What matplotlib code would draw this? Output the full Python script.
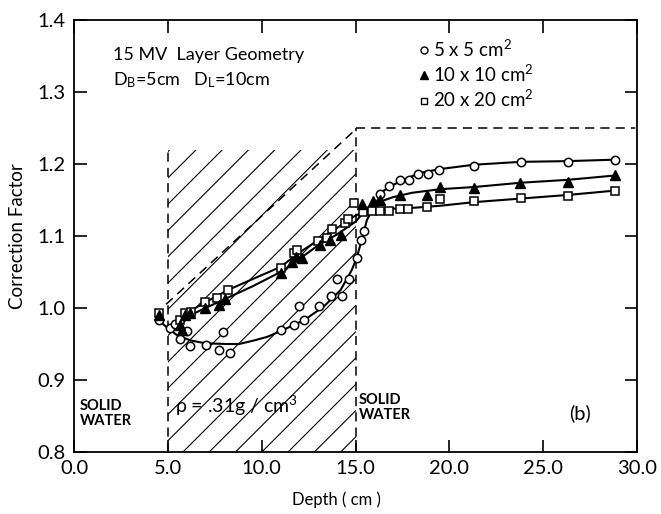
import matplotlib
matplotlib.use("Agg")
import matplotlib.pyplot as plt
import numpy as np
from matplotlib.lines import Line2D
from matplotlib.patches import Rectangle

plt.rcParams['font.family'] = ['Lato', 'DejaVu Sans']
plt.rcParams['mathtext.fontset'] = 'custom'
plt.rcParams['mathtext.rm'] = 'Lato'
plt.rcParams['mathtext.it'] = 'Lato:italic'
plt.rcParams['mathtext.bf'] = 'Lato:bold'

# ---- data ----
c5_x = [4.5, 5.1, 5.4, 5.65, 6.0, 6.2, 7.05, 7.7, 7.95, 8.3, 11.05, 11.7, 12.0, 12.25,
        13.05, 13.7, 14.0, 14.25, 14.65, 15.05, 15.3, 15.45, 16.3, 16.8, 17.35, 17.85,
        18.3, 18.85, 19.45, 21.3, 23.8, 26.3, 28.8]
c5_y = [0.983, 0.972, 0.978, 0.957, 0.968, 0.947, 0.949, 0.942, 0.966, 0.937, 0.970,
        0.977, 1.003, 0.983, 1.003, 1.017, 1.040, 1.017, 1.040, 1.070, 1.095, 1.107,
        1.158, 1.170, 1.178, 1.178, 1.186, 1.186, 1.192, 1.197, 1.203, 1.203, 1.206]
c5_fit_x = [4.6, 4.95, 5.5, 6.2, 7.0, 8.1, 8.8, 9.6, 10.3, 11.1, 12.25, 13.3, 14.2,
            14.8, 15.06, 15.33, 15.6, 16.1, 16.5, 17.0, 17.8, 18.5, 19.5, 21.3, 23.8,
            26.3, 28.8]
c5_fit_y = [0.981, 0.973, 0.962, 0.955, 0.951, 0.950, 0.950, 0.955, 0.960, 0.969,
            0.983, 1.002, 1.025, 1.053, 1.070, 1.095, 1.122, 1.147, 1.163, 1.171,
            1.181, 1.188, 1.193, 1.199, 1.203, 1.204, 1.206]

t10_x = [4.5, 5.65, 5.75, 5.9, 6.2, 7.0, 7.7, 8.05, 11.0, 11.6, 11.8, 12.15, 13.1,
         13.65, 14.2, 15.35, 15.95, 16.3, 17.35, 18.8, 19.5, 21.3, 23.75, 26.3, 28.8]
t10_y = [0.99, 0.976, 0.969, 0.99, 0.993, 1.0, 1.004, 1.013, 1.049, 1.064, 1.071,
         1.07, 1.088, 1.095, 1.101, 1.145, 1.148, 1.15, 1.157, 1.157, 1.168, 1.166,
         1.174, 1.175, 1.185]
t10_fit_x = [5.6, 6.2, 7.0, 8.0, 9.5, 11.0, 12.0, 13.0, 14.0, 15.0, 15.5, 16.0, 17.0,
             18.0, 19.5, 21.3, 23.8, 26.3, 28.8]
t10_fit_y = [0.975, 0.99, 1.0, 1.012, 1.03, 1.05, 1.068, 1.087, 1.102, 1.12, 1.135,
             1.145, 1.154, 1.16, 1.165, 1.168, 1.174, 1.178, 1.184]

s20_x = [4.5, 5.65, 5.9, 6.25, 7.0, 7.6, 8.2, 11.03, 11.7, 11.9, 13.0, 13.5, 13.75,
         14.45, 14.6, 14.9, 15.4, 15.85, 16.3, 16.8, 17.35, 17.8, 18.8, 19.5, 21.3,
         23.8, 26.3, 28.8]
s20_y = [0.993, 0.983, 0.993, 0.995, 1.008, 1.014, 1.025, 1.056, 1.076, 1.080, 1.093,
         1.097, 1.110, 1.118, 1.123, 1.146, 1.133, 1.135, 1.135, 1.135, 1.138, 1.138,
         1.140, 1.152, 1.149, 1.153, 1.156, 1.163]
s20_fit_x = [5.6, 6.2, 7.0, 8.2, 9.5, 11.0, 12.0, 13.0, 14.0, 14.9, 15.4, 16.0, 17.0,
             18.0, 19.5, 21.3, 23.8, 26.3, 28.8]
s20_fit_y = [0.985, 0.996, 1.008, 1.025, 1.04, 1.057, 1.077, 1.094, 1.111, 1.127,
             1.133, 1.136, 1.138, 1.139, 1.142, 1.147, 1.152, 1.157, 1.163]

# reference (dashed) curve
ref_x = [4.9, 15.0, 15.0, 29.9]
ref_y = [1.005, 1.248, 1.25, 1.25]

labels = ["5 x 5 cm$^2$", "10 x 10 cm$^2$", "20 x 20 cm$^2$"]
x_ticks = [0, 5, 10, 15, 20, 25, 30]
y_ticks = [0.8, 0.9, 1.0, 1.1, 1.2, 1.3, 1.4]

# ---- figure ----
fig = plt.figure(figsize=(6.61, 5.14), dpi=100)
ax = fig.add_axes([0.112, 0.1206, 0.852, 0.8405])
ax.set_xlim(0, 30)
ax.set_ylim(0.8, 1.4)

# hatched lung layer
clip = Rectangle((5, 0.8), 10, 0.42, transform=ax.transData, facecolor="none",
                 edgecolor="none")
ax.add_patch(clip)
slope = 0.02607  # 45 degrees on screen
for x0 in np.arange(-11.0, 15.5, 1.4):
    xs = np.array([5, 15])
    ln, = ax.plot(xs, 0.8 + slope * (xs - x0), color="black", lw=0.8)
    ln.set_clip_path(clip)

# layer boundaries
ax.plot([5, 5], [0.8, 1.22], color="black", lw=1.1, dashes=(6, 4))
ax.plot([15, 15], [0.8, 1.25], color="black", lw=1.1, dashes=(6, 4))
ax.plot(ref_x, ref_y, color="black", lw=1.1, dashes=(6, 4))

# fitted curves
for fx, fy in [(c5_fit_x, c5_fit_y), (t10_fit_x, t10_fit_y), (s20_fit_x, s20_fit_y)]:
    ax.plot(fx, fy, color="black", lw=1.5)

ms = 6
ax.plot(c5_x, c5_y, "o", ms=ms, mfc="white", mec="black", mew=1.1, ls="none")
ax.plot(s20_x, s20_y, "s", ms=ms, mfc="white", mec="black", mew=1.1, ls="none")
ax.plot(t10_x, t10_y, "^", ms=ms + 0.5, mfc="black", mec="black", ls="none")

# axes styling
ax.set_xticks(x_ticks)
ax.set_xticklabels([f"{v:.1f}" for v in x_ticks])
ax.set_yticks(y_ticks)
ax.set_yticklabels([f"{v:.1f}" for v in y_ticks])
ax.tick_params(direction="in", length=9, width=1.2, top=True, right=True,
               labelsize=14.5, pad=6)
for s in ax.spines.values():
    s.set_linewidth(1.3)
ax.set_xlabel("Depth ( cm )", fontsize=12)
ax.xaxis.set_label_coords(14.0 / 30, -0.092)
ax.set_ylabel("Correction Factor", fontsize=13.5, labelpad=8)

# annotations
ax.text(2.05, 1.351, "15 MV  Layer Geometry", fontsize=13, va="center")
ax.text(2.05, 1.316, r"D$_\mathregular{B}$=5cm   D$_\mathregular{L}$=10cm",
        fontsize=13, va="center")
ax.text(0.32, 0.853, "SOLID\nWATER", fontsize=10.5, fontweight="bold",
        va="center", linespacing=1.1)
ax.text(15.15, 0.862, "SOLID\nWATER", fontsize=10.5, fontweight="bold",
        va="center", linespacing=1.1)
ax.text(5.4, 0.864, "ρ = .31g / cm$^3$", fontsize=14, va="center")
ax.text(26.4, 0.854, "(b)", fontsize=14.5, va="center")

handles = [
    Line2D([], [], marker="o", ls="none", ms=5, mfc="white", mec="black", mew=1),
    Line2D([], [], marker="^", ls="none", ms=6, mfc="black", mec="black"),
    Line2D([], [], marker="s", ls="none", ms=5, mfc="white", mec="black", mew=1),
]
ax.legend(handles, labels, loc="upper left", bbox_to_anchor=(0.6, 0.975),
          frameon=False, fontsize=13.5, handlelength=0.5, handletextpad=0.25,
          labelspacing=0.22, borderaxespad=0)

fig.savefig("out.png", dpi=100)
